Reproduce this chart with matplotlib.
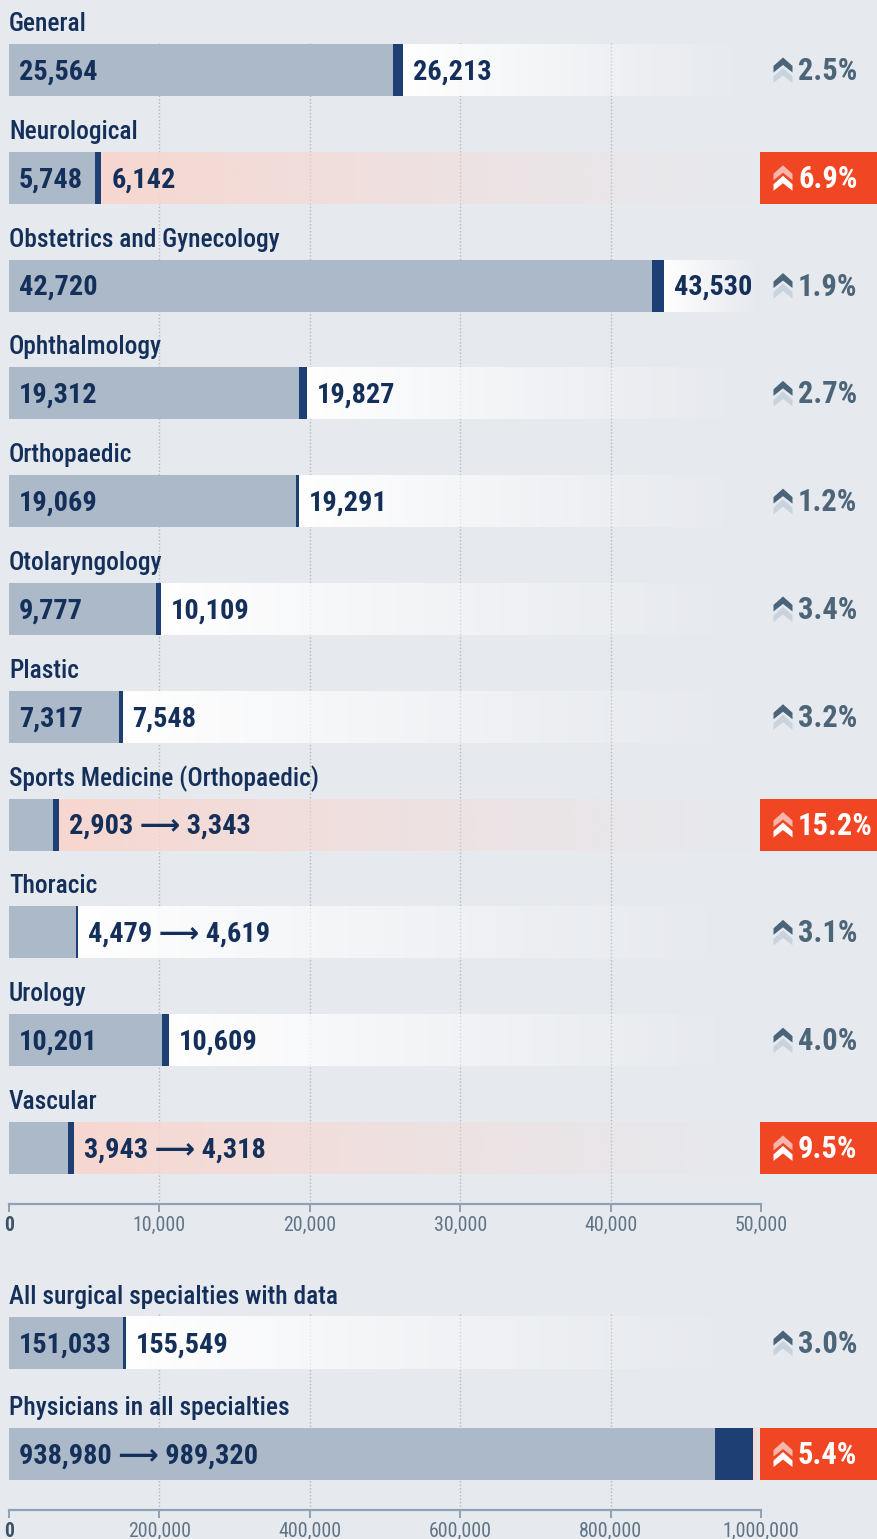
import numpy as np
import matplotlib

matplotlib.use("Agg")
import matplotlib.pyplot as plt
from matplotlib import font_manager
from matplotlib.patches import Polygon, Rectangle

# --- data -----------------------------------------------------------------
specialties = [
    "General", "Neurological", "Obstetrics and Gynecology", "Ophthalmology",
    "Orthopaedic", "Otolaryngology", "Plastic", "Sports Medicine (Orthopaedic)",
    "Thoracic", "Urology", "Vascular",
]
before = [25564, 5748, 42720, 19312, 19069, 9777, 7317, 2903, 4479, 10201, 3943]
after = [26213, 6142, 43530, 19827, 19291, 10109, 7548, 3343, 4619, 10609, 4318]

totals = ["All surgical specialties with data", "Physicians in all specialties"]
totals_before = [151033, 938980]
totals_after = [155549, 989320]

top_ticks = [0, 10000, 20000, 30000, 40000, 50000]
bottom_ticks = [0, 200000, 400000, 600000, 800000, 1000000]

# --- style ----------------------------------------------------------------
W, H = 877, 1539
BG = "#e6e9ee"
GRAY_BAR = "#acb9c8"
DARK = "#1d3f73"
TEXT = "#14305a"
MUTED = "#5f7486"
PCT_TEXT = "#4d6578"
CHEV_DARK = "#4a6479"
CHEV_LIGHT = "#c8d3de"
RED = "#f04624"
PINK = "#f8d7d0"
AXIS = "#8fa1b4"
GRID = "#aebbc8"
HIGHLIGHT_PCT = 5.0

# pick the narrowest installed sans; size scale keeps text widths near the original
installed = {(f.name, f.stretch) for f in font_manager.fontManager.ttflist}
names = {n for n, _ in installed}
STRETCH = "normal"
if "Liberation Sans Narrow" in names:
    FAMILY, SCALE = "Liberation Sans Narrow", 1.0
elif "Roboto Condensed" in names:
    FAMILY, SCALE = "Roboto Condensed", 1.0
elif ("DejaVu Sans", "condensed") in installed or ("DejaVu Sans", "semi-condensed") in installed:
    FAMILY, SCALE, STRETCH = "DejaVu Sans", 0.92, "condensed"
elif "Roboto" in names:
    FAMILY, SCALE = "Roboto", 0.9
else:
    FAMILY, SCALE = "DejaVu Sans", 0.82
plt.rcParams["font.family"] = [FAMILY, "DejaVu Sans"]
plt.rcParams["font.stretch"] = STRETCH

LABEL_FS = 18.3 * SCALE
VALUE_FS = 20.3 * SCALE
PCT_FS = 22 * SCALE
TICK_FS = 14.3 * SCALE

fig = plt.figure(figsize=(W / 100, H / 100), dpi=100)
fig.patch.set_facecolor(BG)


def add_axes_px(left, top, right, bottom, **kw):
    return fig.add_axes([left / W, 1 - bottom / H, (right - left) / W, (bottom - top) / H], **kw)


def px(points):
    # pixels -> points at dpi 100
    return points * 0.72


def gradient_band(ax, x0, x1, y, h, color):
    rgba = np.zeros((1, 256, 4))
    rgba[..., :3] = matplotlib.colors.to_rgb(color)
    t = np.linspace(0, 1, 256)
    rgba[0, :, 3] = np.clip(1 - t, 0, 1) ** 1.2
    ax.imshow(rgba, extent=(x0, x1, y + h / 2, y - h / 2), aspect="auto",
              interpolation="bilinear", zorder=1)


def style_axis(ax, ticks, xmax, ybottom, ytop, grid_ticks):
    ax.set_facecolor("none")
    ax.set_xlim(0, xmax)
    ax.set_ylim(ybottom, ytop)
    for s in ("top", "right", "left"):
        ax.spines[s].set_visible(False)
    ax.spines["bottom"].set_color(AXIS)
    ax.spines["bottom"].set_linewidth(1.6)
    ax.set_yticks([])
    ax.set_xticks(ticks)
    ax.set_xticklabels([f"{t:,}" for t in ticks])
    ax.tick_params(axis="x", direction="out", length=px(8), width=1.4, color=AXIS,
                   labelsize=TICK_FS, labelcolor=MUTED, pad=px(4))
    lbl = ax.get_xticklabels()[0]
    lbl.set_fontweight("bold")
    lbl.set_color("#3c5266")
    ax.vlines(grid_ticks, ytop + 0.4, ybottom, colors=GRID, linestyles=(0, (1, 1.5)),
              linewidth=1, zorder=0)


def chevrons(ov, cx, cy, top_color, bottom_color):
    def shape(y0):
        return [(cx - 9.5, y0 + 8.5), (cx, y0), (cx + 9.5, y0 + 8.5), (cx + 9.5, y0 + 15),
                (cx, y0 + 7.5), (cx - 9.5, y0 + 15)]
    ov.add_patch(Polygon(shape(cy - 2), closed=True, color=bottom_color, lw=0, zorder=5))
    ov.add_patch(Polygon(shape(cy - 12.5), closed=True, color=top_color, lw=0, zorder=6))


def draw_rows(ax, ov, names, olds, news, bar_h, xmax):
    for row, (name, old, new) in enumerate(zip(names, olds, news)):
        pct = (new - old) / old * 100
        hot = pct >= HIGHLIGHT_PCT
        ax.barh(row, old, height=bar_h, color=GRAY_BAR, zorder=2)
        ax.barh(row, new - old, left=old, height=bar_h, color=DARK, zorder=2)
        gradient_band(ax, new, xmax, row, bar_h, PINK if hot else "white")

        ax.annotate(name, (0, row), xytext=(0, px(46)), textcoords="offset points",
                    ha="left", va="center", fontsize=LABEL_FS, fontweight="medium", color=TEXT)

        old_txt, new_txt = f"{old:,}", f"{new:,}"
        fits_inside = old / xmax * 752 > 75
        vshift = px(-2)
        if fits_inside and new / xmax < 0.9:
            ax.annotate(old_txt, (0, row), xytext=(px(10), vshift), textcoords="offset points",
                        ha="left", va="center", fontsize=VALUE_FS, fontweight="bold",
                        color=TEXT, zorder=4)
            ax.annotate(new_txt, (new, row), xytext=(px(10), vshift), textcoords="offset points",
                        ha="left", va="center", fontsize=VALUE_FS, fontweight="bold",
                        color=TEXT, zorder=4)
        else:
            anchor = 0 if new / xmax >= 0.9 else new
            ax.annotate(f"{old_txt} \u27f6 {new_txt}", (anchor, row), xytext=(px(10), vshift),
                        textcoords="offset points", ha="left", va="center", fontsize=VALUE_FS,
                        fontweight="bold", color=TEXT, zorder=4)

        # badge on the right, in figure pixels
        _, ydisp = ax.transData.transform((0, row))
        cy = H - ydisp
        if hot:
            ov.add_patch(Rectangle((760, cy - 26), 117, 52, color=RED, lw=0, zorder=4))
            chevrons(ov, 783, cy, "#f6b6a9", "white")
            pcolor = "white"
        else:
            chevrons(ov, 783, cy, CHEV_DARK, CHEV_LIGHT)
            pcolor = PCT_TEXT
        ov.text(798, cy + 1, f"{pct:.1f}%", ha="left", va="center", fontsize=PCT_FS,
                fontweight="bold", color=pcolor, zorder=7)


# top panel: row centers at 70 px + 107.8 px per row
ax1 = add_axes_px(9, 0, 761, 1204)
style_axis(ax1, top_ticks, 50000, 10.52, -0.649, top_ticks[1:-1])
# bottom panel: row centers at 1343 px + 111 px per row
ax2 = add_axes_px(9, 1270, 761, 1510)
style_axis(ax2, bottom_ticks, 1000000, 1.504, -0.658, bottom_ticks[1:-1])

ov = fig.add_axes([0, 0, 1, 1], zorder=10)
ov.set_xlim(0, W)
ov.set_ylim(H, 0)
ov.axis("off")
ov.patch.set_alpha(0)

draw_rows(ax1, ov, specialties, before, after, 52 / 107.8, 50000)
draw_rows(ax2, ov, totals, totals_before, totals_after, 52 / 111, 1000000)

ax1.set_xlim(0, 50000)
ax1.set_ylim(10.52, -0.649)
ax2.set_xlim(0, 1000000)
ax2.set_ylim(1.504, -0.658)

fig.savefig("out.png", dpi=100, facecolor=BG)
